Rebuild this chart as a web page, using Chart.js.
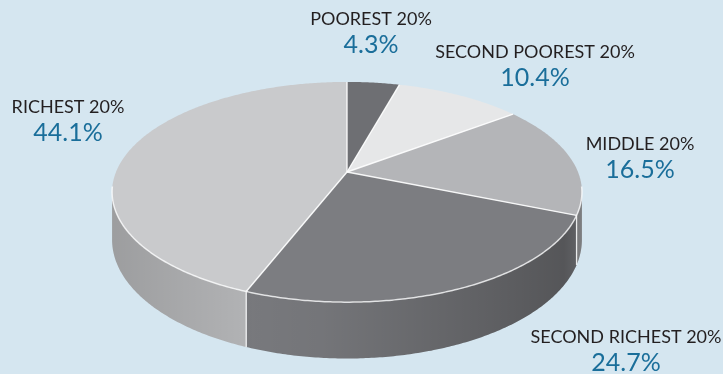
<!DOCTYPE html>
<html>
<head>
<meta charset="utf-8">
<script src="https://cdn.jsdelivr.net/npm/chart.js@4.4.1/dist/chart.umd.min.js"></script>
<style>
  html, body { margin: 0; padding: 0; background: #d5e6f0; }
  #wrap { width: 723px; height: 374px; position: relative; }
</style>
</head>
<body>
<div id="wrap"><canvas id="c"></canvas></div>
<script>
// Income share by quintile
const categories = ['POOREST 20%', 'SECOND POOREST 20%', 'MIDDLE 20%', 'SECOND RICHEST 20%', 'RICHEST 20%'];
const shares = [4.3, 10.4, 16.5, 24.7, 44.1];

// Slice colours: top face and rim
const topColors  = ['#6e6f73', '#e6e7e8', '#b4b5b8', '#7c7d81', '#c9cacc'];
const sideColors = ['#5e5f63', '#c8c9cb', '#9a9b9e', '#7a7b7f', '#b6b7b9'];

// Label placement: [centre x, baseline y] of each category caption
const labelAnchors = [[371, 25], [535, 58], [640, 150], [626, 343], [68, 113]];
const VALUE_GAP = 28;

// Perspective of the tilted disk, relative to the pie's outer radius
const SX = 1.343, SY = 0.619, DEPTH = 0.268, TILT = 0.182;

const pie3d = {
  id: 'pie3d',
  beforeDatasetsDraw(chart) {
    const ctx = chart.ctx;
    const arcs = chart.getDatasetMeta(0).data;
    const R = arcs[0].outerRadius, cx = arcs[0].x, cy = arcs[0].y;
    const proj = (a, drop) => {
      const w = 1 - TILT * Math.sin(a);
      return [cx + R * SX * Math.cos(a) / w,
              cy + R * SY * Math.sin(a) / w + (drop ? R * DEPTH / w : 0)];
    };
    const rimPath = (s, e, drop) => {
      const pts = [];
      const n = Math.max(4, Math.ceil((e - s) / 0.01));
      for (let i = 0; i <= n; i++) pts.push(proj(s + (e - s) * i / n, drop));
      return pts;
    };
    const a0 = Math.asin(TILT), a1 = Math.PI - a0;
    const left = cx - R * SX * 1.02, right = cx + R * SX * 1.02;

    ctx.save();
    // visible wall of the cylinder
    const boundaries = [];
    arcs.forEach((arc, i) => {
      const s = Math.max(arc.startAngle, a0), e = Math.min(arc.endAngle, a1);
      if (e <= s) return;
      if (arc.startAngle > a0 && arc.startAngle < a1) boundaries.push(arc.startAngle);
      const top = rimPath(s, e, false), bot = rimPath(s, e, true).reverse();
      ctx.beginPath();
      top.concat(bot).forEach((p, j) => j ? ctx.lineTo(p[0], p[1]) : ctx.moveTo(p[0], p[1]));
      ctx.closePath();
      ctx.fillStyle = sideColors[i];
      ctx.fill();
      const g = ctx.createLinearGradient(left, 0, right, 0);
      g.addColorStop(0.00, 'rgba(0,0,0,0.14)');
      g.addColorStop(0.30, 'rgba(0,0,0,0.02)');
      g.addColorStop(0.45, 'rgba(0,0,0,0.05)');
      g.addColorStop(0.80, 'rgba(0,0,0,0.22)');
      g.addColorStop(0.96, 'rgba(0,0,0,0.30)');
      g.addColorStop(1.00, 'rgba(0,0,0,0.18)');
      ctx.fillStyle = g;
      ctx.fill();
    });
    ctx.strokeStyle = 'rgba(255,255,255,0.85)';
    ctx.lineWidth = 1.3;
    boundaries.forEach(a => {
      const p = proj(a, false), q = proj(a, true);
      ctx.beginPath(); ctx.moveTo(p[0], p[1]); ctx.lineTo(q[0], q[1]); ctx.stroke();
    });

    // top faces
    arcs.forEach((arc, i) => {
      const pts = rimPath(arc.startAngle, arc.endAngle, false);
      ctx.beginPath();
      ctx.moveTo(cx, cy);
      pts.forEach(p => ctx.lineTo(p[0], p[1]));
      ctx.closePath();
      ctx.fillStyle = topColors[i];
      ctx.fill();
    });
    // slice separators
    ctx.strokeStyle = 'rgba(255,255,255,0.9)';
    ctx.lineWidth = 1.4;
    arcs.forEach(arc => {
      const p = proj(arc.startAngle, false);
      ctx.beginPath(); ctx.moveTo(cx, cy); ctx.lineTo(p[0], p[1]); ctx.stroke();
    });
    // highlight along the front edge of the top face
    ctx.strokeStyle = 'rgba(255,255,255,0.75)';
    ctx.lineWidth = 1.5;
    ctx.beginPath();
    rimPath(a0 - 0.05, a1 + 0.05, false).forEach((p, j) => j ? ctx.lineTo(p[0], p[1]) : ctx.moveTo(p[0], p[1]));
    ctx.stroke();
    ctx.restore();
    return false;
  },
  afterDraw(chart) {
    const ctx = chart.ctx;
    ctx.save();
    ctx.textAlign = 'center';
    ctx.textBaseline = 'alphabetic';
    chart.data.labels.forEach((name, i) => {
      const [x, y] = labelAnchors[i];
      ctx.fillStyle = '#231f20';
      ctx.font = '18px Lato';
      ctx.fillText(name, x, y);
      ctx.fillStyle = '#1a6e9a';
      ctx.font = '25px Lato';
      ctx.fillText(chart.data.datasets[0].data[i].toFixed(1) + '%', x, y + VALUE_GAP);
    });
    ctx.restore();
  }
};

new Chart(document.getElementById('c'), {
  type: 'pie',
  data: {
    labels: categories,
    datasets: [{ data: shares, backgroundColor: topColors, borderWidth: 0 }]
  },
  options: {
    responsive: true,
    maintainAspectRatio: false,
    animation: false,
    layout: { padding: { left: 0, right: 29, top: 0, bottom: 30 } },
    plugins: { legend: { display: false }, tooltip: { enabled: false } }
  },
  plugins: [pie3d]
});
</script>
</body>
</html>
